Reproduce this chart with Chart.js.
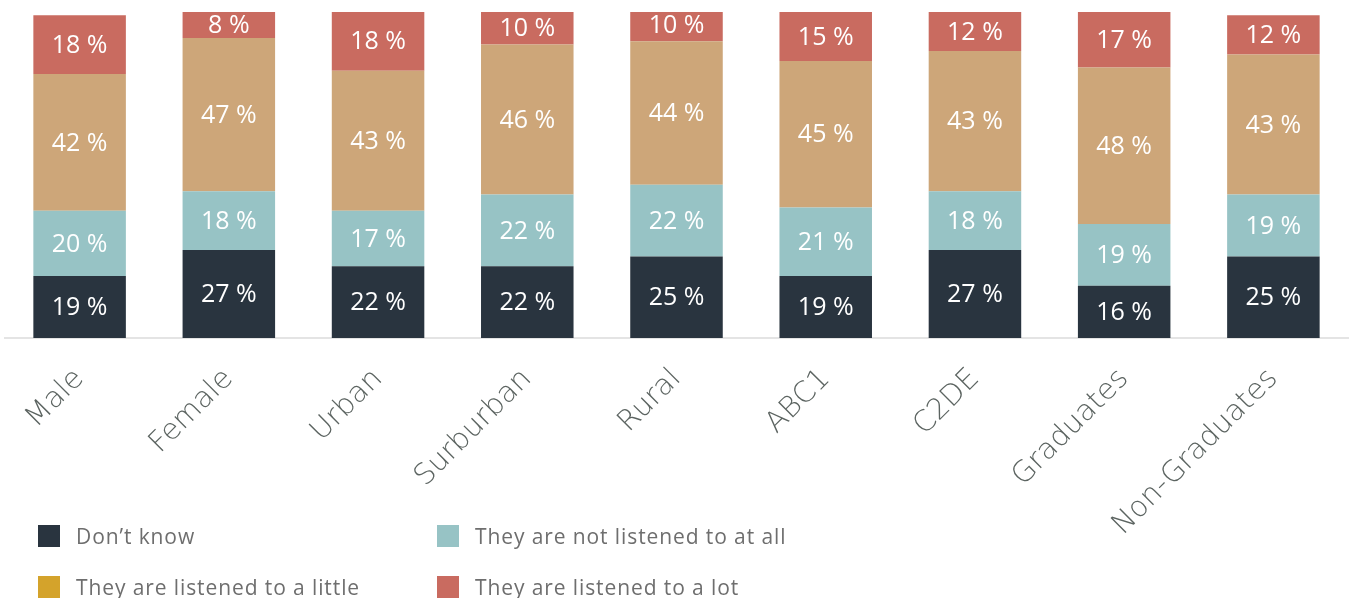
<!DOCTYPE html>
<html>
<head>
<meta charset="utf-8">
<script src="https://cdn.jsdelivr.net/npm/chart.js@4.4.1/dist/chart.umd.min.js"></script>
<style>
  html, body { margin: 0; padding: 0; background: #fff; }
  .wrap { position: relative; width: 1352px; height: 598px; overflow: hidden; }
  #chart { position: absolute; left: 0; top: 0; }
  .legend { position: absolute; left: 38px; top: 522px; width: 800px; font-family: "Open Sans", sans-serif; font-size: 21px; letter-spacing: 0.9px; color: #6e6e6e; }
  .legend .item { position: absolute; display: flex; align-items: center; white-space: nowrap; }
  .legend .box { width: 22px; height: 22px; margin-right: 16px; }
</style>
</head>
<body>
<div class="wrap">
  <canvas id="chart" width="1352" height="598"></canvas>
  <div class="legend" id="legend"></div>
</div>
<script>
// categories
const groups = ['Male', 'Female', 'Urban', 'Surburban', 'Rural', 'ABC1', 'C2DE', 'Graduates', 'Non-Graduates'];

// answers, bottom to top of each stack (%)
const dontKnow   = [19, 27, 22, 22, 25, 19, 27, 16, 25];
const notAtAll   = [20, 18, 17, 22, 22, 21, 18, 19, 19];
const aLittle    = [42, 47, 43, 46, 44, 45, 43, 48, 43];
const aLot       = [18,  8, 18, 10, 10, 15, 12, 17, 12];

const seriesNames = ["Don’t know", 'They are not listened to at all', 'They are listened to a little', 'They are listened to a lot'];
const barColors = ['#29343f', '#97c3c5', '#cda679', '#c96b60'];
const legendColors = ['#29343f', '#97c3c5', '#d4a32b', '#c96b60'];

// white "NN %" in the middle of every segment
const segmentLabels = {
    id: 'segmentLabels',
    afterDatasetsDraw(chart) {
        const ctx = chart.ctx;
        ctx.save();
        ctx.fillStyle = '#ffffff';
        ctx.font = '400 25px "Open Sans", sans-serif';
        ctx.textAlign = 'center';
        ctx.textBaseline = 'middle';
        chart.data.datasets.forEach((ds, i) => {
            chart.getDatasetMeta(i).data.forEach((bar, j) => {
                const mid = (bar.y + bar.base) / 2;
                ctx.fillText(ds.data[j] + ' %', bar.x, mid + 1);
            });
        });
        ctx.restore();
    }
};

const seriesData = [dontKnow, notAtAll, aLittle, aLot];

new Chart(document.getElementById('chart'), {
    type: 'bar',
    data: {
        labels: groups,
        datasets: seriesData.map((d, i) => ({
            label: seriesNames[i],
            data: d,
            backgroundColor: barColors[i],
            borderWidth: 0,
            categoryPercentage: 1,
            barPercentage: 0.62
        }))
    },
    options: {
        responsive: false,
        animation: false,
        layout: { padding: { top: 12, left: 5, right: 4, bottom: 0 } },
        plugins: {
            legend: { display: false },
            tooltip: { enabled: false }
        },
        scales: {
            x: {
                stacked: true,
                grid: { display: false, drawTicks: false },
                border: { display: true, color: '#e4e4e4', width: 2 },
                ticks: {
                    autoSkip: false,
                    minRotation: 45,
                    maxRotation: 45,
                    padding: 24,
                    color: '#5c6461',
                    font: { family: 'DejaVu Sans', size: 29, weight: '300' }
                },
                afterFit(scale) { scale.height = 598 - 338; }
            },
            y: {
                stacked: true,
                display: false,
                min: 0,
                max: 100
            }
        }
    },
    plugins: [segmentLabels]
});

// two-column legend under the axis labels
const legend = document.getElementById('legend');
const spots = [[0, 0], [399, 0], [0, 51], [399, 51]];
seriesNames.forEach((name, i) => {
    const item = document.createElement('div');
    item.className = 'item';
    item.style.left = spots[i][0] + 'px';
    item.style.top = spots[i][1] + 'px';
    item.innerHTML = '<span class="box" style="background:' + legendColors[i] + '"></span><span>' + name + '</span>';
    legend.appendChild(item);
});
</script>
</body>
</html>
